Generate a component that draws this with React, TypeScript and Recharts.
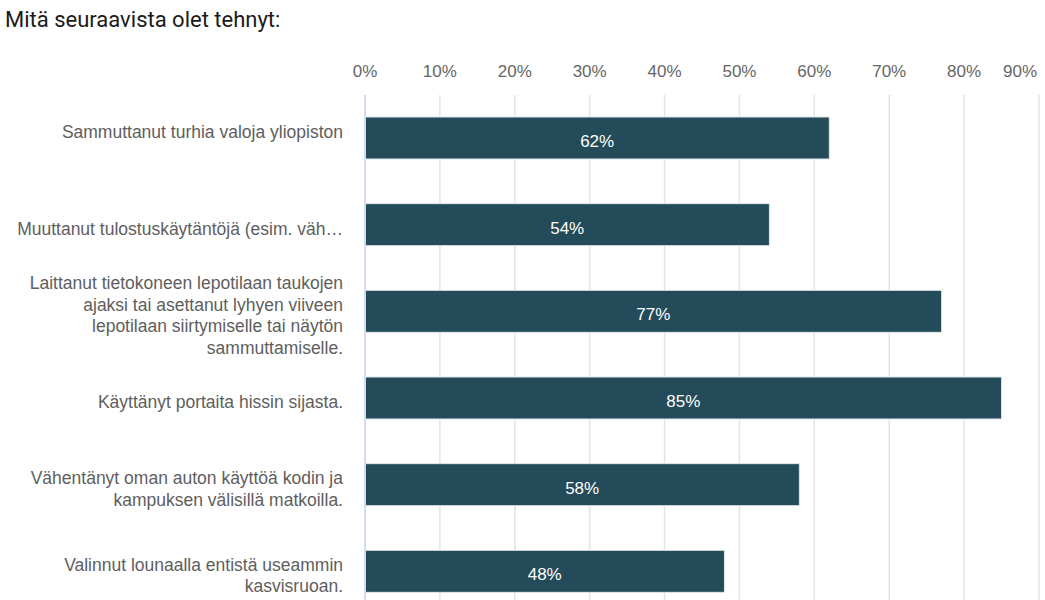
import React from 'react';
import { BarChart, Bar, XAxis, YAxis, CartesianGrid, LabelList, ReferenceLine } from 'recharts';

const title = 'Mitä seuraavista olet tehnyt:';

const categoryLines: string[][] = [
  ['Sammuttanut turhia valoja yliopiston', ''],
  ['Muuttanut tulostuskäytäntöjä (esim. väh…'],
  [
    'Laittanut tietokoneen lepotilaan taukojen',
    'ajaksi tai asettanut lyhyen viiveen',
    'lepotilaan siirtymiselle tai näytön',
    'sammuttamiselle.',
  ],
  ['Käyttänyt portaita hissin sijasta.'],
  ['Vähentänyt oman auton käyttöä kodin ja', 'kampuksen välisillä matkoilla.'],
  ['Valinnut lounaalla entistä useammin', 'kasvisruoan.'],
];

const values = [0.62, 0.54, 0.77, 0.85, 0.58, 0.48];

const xTicks = [0, 0.1, 0.2, 0.3, 0.4, 0.5, 0.6, 0.7, 0.8, 0.9];

const data = categoryLines.map((lines, i) => ({ name: lines.join('\n'), value: values[i] }));

const FONT = '"Liberation Sans", Arial, sans-serif';
const pct = (v: number) => `${Math.round(v * 100)}%`;

const XTick = (props: any) => {
  const { x, y, payload, index } = props;
  const last = index === xTicks.length - 1;
  return (
    <text
      x={last ? x - 2 : x}
      y={y}
      dy={-10}
      textAnchor={last ? 'end' : 'middle'}
      fill="#666666"
      fontSize={17}
      fontFamily={FONT}
    >
      {pct(payload.value)}
    </text>
  );
};

const YTick = (props: any) => {
  const { x, y, payload } = props;
  const lines: string[] = String(payload.value).split('\n');
  const lh = 21.5;
  const start = -((lines.length - 1) / 2) * lh + 10;
  return (
    <text x={x - 14} y={y} textAnchor="end" fill="#5e5e5e" fontSize={17.5} fontFamily={FONT}>
      {lines.map((l, i) => (
        <tspan key={i} x={x - 14} y={y + start + i * lh}>
          {l}
        </tspan>
      ))}
    </text>
  );
};

const ValueLabel = (props: any) => {
  const { x, y, width, height, value } = props;
  return (
    <text
      x={x + width / 2}
      y={y + height / 2}
      dy={9}
      textAnchor="middle"
      fill="#ffffff"
      fontSize={17}
      fontFamily={FONT}
    >
      {pct(Number(value))}
    </text>
  );
};

export default function App() {
  return (
    <div
      style={{
        position: 'absolute',
        left: 0,
        top: 0,
        width: 1045,
        height: 600,
        overflow: 'hidden',
        background: '#ffffff',
      }}
    >
      <div
        style={{
          position: 'absolute',
          left: 5,
          top: 7,
          fontFamily: 'Roboto, sans-serif',
          fontSize: 22,
          lineHeight: '26px',
          color: '#1a1a1a',
          whiteSpace: 'nowrap',
        }}
      >
        {title}
      </div>
      <div style={{ position: 'absolute', left: 0, top: 0 }}>
        <BarChart
          width={1045}
          height={615}
          data={data}
          layout="vertical"
          margin={{ top: 65, right: 6, left: 0, bottom: 0 }}
          barSize={42}
        >
          <CartesianGrid horizontal={false} stroke="#e4e4e4" strokeWidth={1.5} />
          <XAxis
            type="number"
            orientation="top"
            domain={[0, 0.9]}
            ticks={xTicks}
            axisLine={false}
            tickLine={false}
            height={30}
            tick={<XTick />}
            interval={0}
          />
          <YAxis
            type="category"
            dataKey="name"
            width={365}
            axisLine={false}
            tickLine={false}
            tick={<YTick />}
            interval={0}
          />
          <ReferenceLine x={0} stroke="#d3dcee" strokeWidth={2} />
          <Bar
            dataKey="value"
            fill="#244b59"
            stroke="#dfe6ea"
            strokeWidth={1}
            isAnimationActive={false}
          >
            <LabelList dataKey="value" content={<ValueLabel />} />
          </Bar>
        </BarChart>
      </div>
    </div>
  );
}
